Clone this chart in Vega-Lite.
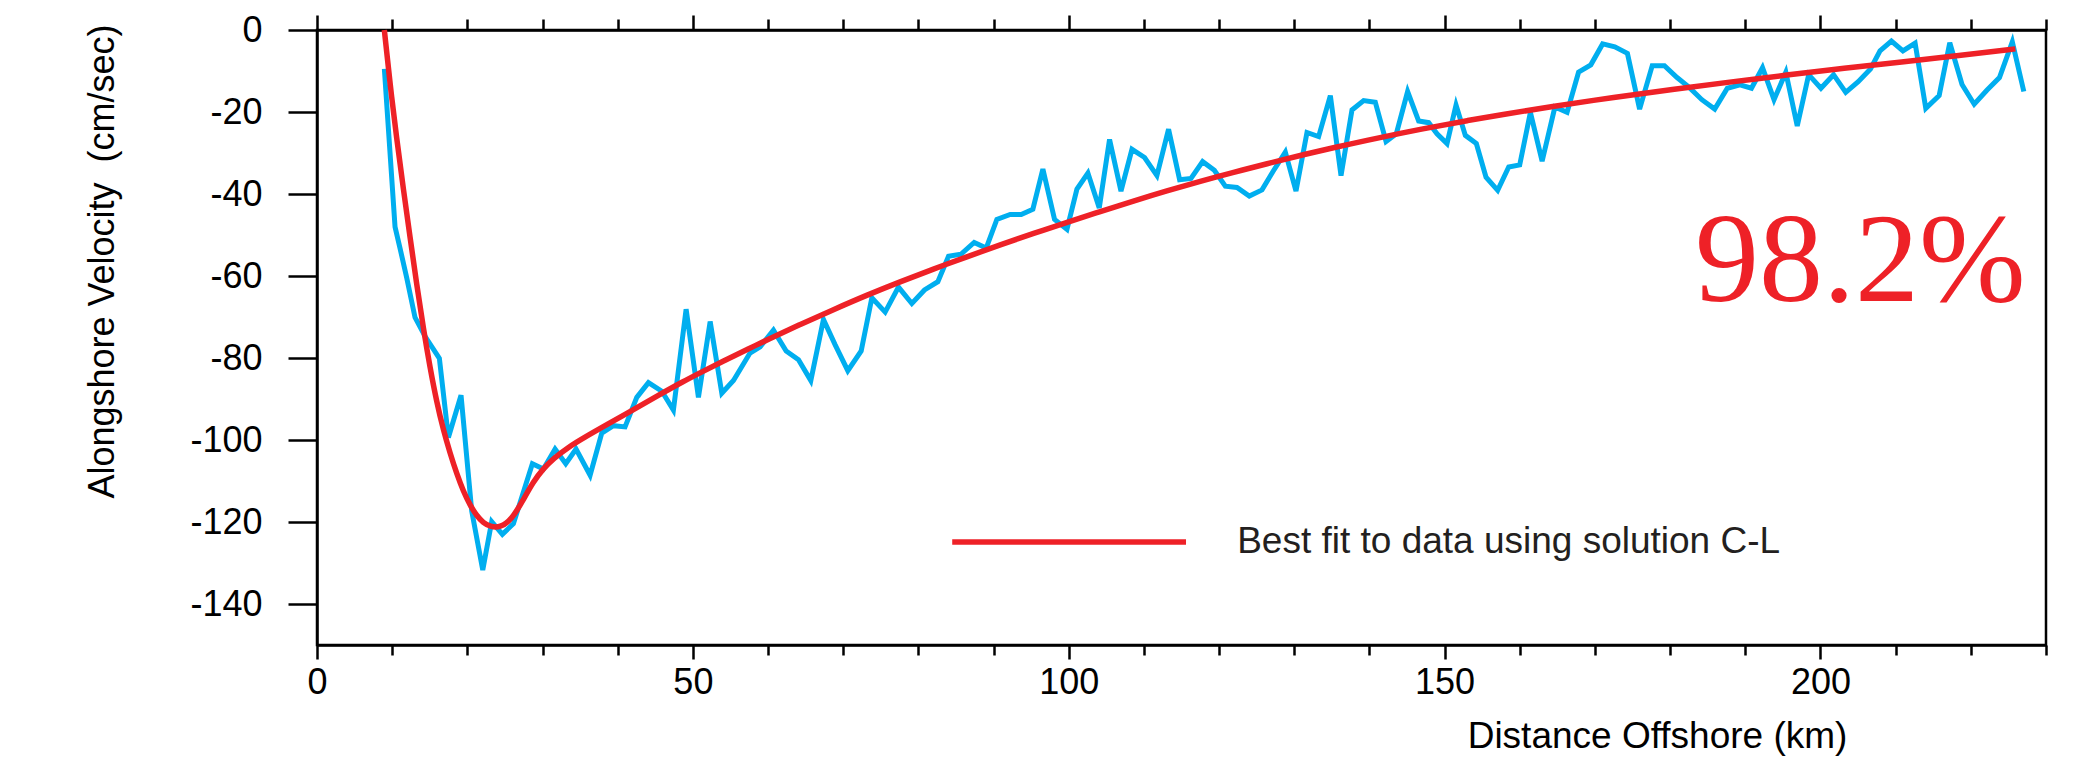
{
  "$schema": "https://vega.github.io/schema/vega-lite/v6.json",
  "width": 1729,
  "height": 615,
  "autosize": {"type": "none"},
  "padding": {"left": 317, "top": 30, "right": 52, "bottom": 112},
  "background": "white",
  "config": {
    "view": {"stroke": "#000000", "strokeWidth": 2.5},
    "font": "Liberation Sans"
  },
  "datasets": {
    "observed": [
      {"distance": 8.96, "velocity": -9.5}, {"distance": 10.38, "velocity": -48.0}, {"distance": 11.04, "velocity": -53.2}, {"distance": 11.93, "velocity": -60.4}, {"distance": 13.04, "velocity": -70.1}, {"distance": 14.37, "velocity": -74.7}, {"distance": 16.28, "velocity": -80.1}, {"distance": 17.48, "velocity": -99.4}, {"distance": 19.16, "velocity": -89.1}, {"distance": 20.58, "velocity": -117.3}, {"distance": 22.05, "velocity": -131.7}, {"distance": 23.24, "velocity": -119.9}, {"distance": 24.66, "velocity": -123.0}, {"distance": 26.13, "velocity": -120.4}, {"distance": 28.65, "velocity": -105.8}, {"distance": 30.12, "velocity": -107.1}, {"distance": 31.67, "velocity": -102.2}, {"distance": 33.09, "velocity": -105.8}, {"distance": 34.46, "velocity": -102.2}, {"distance": 36.33, "velocity": -108.6}, {"distance": 37.88, "velocity": -98.3}, {"distance": 39.43, "velocity": -96.5}, {"distance": 40.98, "velocity": -96.8}, {"distance": 42.54, "velocity": -89.6}, {"distance": 44.09, "velocity": -86.0}, {"distance": 45.87, "velocity": -88.1}, {"distance": 47.41, "velocity": -92.7}, {"distance": 49.1, "velocity": -68.1}, {"distance": 50.74, "velocity": -89.6}, {"distance": 52.3, "velocity": -71.1}, {"distance": 53.85, "velocity": -88.6}, {"distance": 55.4, "velocity": -85.5}, {"distance": 57.6, "velocity": -78.8},
      {"distance": 58.95, "velocity": -77.3}, {"distance": 60.72, "velocity": -73.2}, {"distance": 62.41, "velocity": -78.3}, {"distance": 64.05, "velocity": -80.4}, {"distance": 65.69, "velocity": -85.5}, {"distance": 67.37, "velocity": -70.6}, {"distance": 68.93, "velocity": -76.8}, {"distance": 70.61, "velocity": -83.1}, {"distance": 72.39, "velocity": -78.3}, {"distance": 73.81, "velocity": -65.3}, {"distance": 75.58, "velocity": -68.8}, {"distance": 77.35, "velocity": -62.7}, {"distance": 79.13, "velocity": -66.7}, {"distance": 80.81, "velocity": -63.4}, {"distance": 82.59, "velocity": -61.4}, {"distance": 84.01, "velocity": -55.2}, {"distance": 85.65, "velocity": -54.7}, {"distance": 87.42, "velocity": -51.8}, {"distance": 89.02, "velocity": -53.2}, {"distance": 90.44, "velocity": -46.2}, {"distance": 92.21, "velocity": -45.0}, {"distance": 93.68, "velocity": -45.0}, {"distance": 95.23, "velocity": -43.7}, {"distance": 96.56, "velocity": -33.9}, {"distance": 98.11, "velocity": -46.2}, {"distance": 99.76, "velocity": -48.6}, {"distance": 101.09, "velocity": -38.8}, {"distance": 102.55, "velocity": -34.9}, {"distance": 104.06, "velocity": -43.4}, {"distance": 105.43, "velocity": -26.7}, {"distance": 106.95, "velocity": -39.3}, {"distance": 108.41, "velocity": -29.1}, {"distance": 110.09, "velocity": -31.1},
      {"distance": 111.73, "velocity": -35.5}, {"distance": 113.28, "velocity": -24.2}, {"distance": 114.75, "velocity": -36.5}, {"distance": 116.26, "velocity": -36.2}, {"distance": 117.81, "velocity": -32.1}, {"distance": 119.37, "velocity": -34.2}, {"distance": 120.83, "velocity": -38.1}, {"distance": 122.38, "velocity": -38.4}, {"distance": 124.02, "velocity": -40.5}, {"distance": 125.71, "velocity": -39.0}, {"distance": 127.17, "velocity": -34.5}, {"distance": 128.81, "velocity": -29.8}, {"distance": 130.23, "velocity": -39.3}, {"distance": 131.69, "velocity": -25.0}, {"distance": 133.24, "velocity": -26.0}, {"distance": 134.8, "velocity": -16.0}, {"distance": 136.22, "velocity": -35.5}, {"distance": 137.68, "velocity": -19.5}, {"distance": 139.23, "velocity": -17.2}, {"distance": 140.78, "velocity": -17.6}, {"distance": 142.21, "velocity": -27.2}, {"distance": 143.58, "velocity": -25.3}, {"distance": 145.08, "velocity": -15.0}, {"distance": 146.55, "velocity": -22.2}, {"distance": 147.88, "velocity": -22.6}, {"distance": 148.99, "velocity": -25.3}, {"distance": 150.32, "velocity": -27.7}, {"distance": 151.52, "velocity": -18.3}, {"distance": 152.76, "velocity": -25.7}, {"distance": 154.22, "velocity": -27.7}, {"distance": 155.51, "velocity": -35.9}, {"distance": 157.06, "velocity": -39.1}, {"distance": 158.53, "velocity": -33.4}, {"distance": 159.99, "velocity": -32.9}, {"distance": 161.41, "velocity": -20.1}, {"distance": 162.97, "velocity": -32.0},
      {"distance": 164.67, "velocity": -18.8}, {"distance": 166.29, "velocity": -20.1}, {"distance": 167.82, "velocity": -10.3}, {"distance": 169.45, "velocity": -8.5}, {"distance": 171.02, "velocity": -3.4}, {"distance": 172.64, "velocity": -4.1}, {"distance": 174.32, "velocity": -5.7}, {"distance": 175.94, "velocity": -19.3}, {"distance": 177.62, "velocity": -8.7}, {"distance": 179.24, "velocity": -8.7}, {"distance": 180.92, "velocity": -11.6}, {"distance": 182.54, "velocity": -14.0}, {"distance": 184.22, "velocity": -17.0}, {"distance": 185.93, "velocity": -19.3}, {"distance": 187.61, "velocity": -14.2}, {"distance": 189.29, "velocity": -13.4}, {"distance": 190.82, "velocity": -14.2}, {"distance": 192.29, "velocity": -9.2}, {"distance": 193.82, "velocity": -17.0}, {"distance": 195.39, "velocity": -10.3}, {"distance": 196.91, "velocity": -23.4}, {"distance": 198.43, "velocity": -10.9}, {"distance": 200.06, "velocity": -14.2}, {"distance": 201.74, "velocity": -10.9}, {"distance": 203.36, "velocity": -15.2}, {"distance": 205.02, "velocity": -12.6}, {"distance": 206.65, "velocity": -9.5}, {"distance": 207.92, "velocity": -5.1}, {"distance": 209.44, "velocity": -2.7}, {"distance": 210.97, "velocity": -5.1}, {"distance": 212.59, "velocity": -3.2}, {"distance": 214.01, "velocity": -19.1}, {"distance": 215.79, "velocity": -16.0}, {"distance": 217.2, "velocity": -3.1}, {"distance": 218.83, "velocity": -13.3}, {"distance": 220.45, "velocity": -18.1}, {"distance": 222.13, "velocity": -14.7}, {"distance": 223.81, "velocity": -11.6}, {"distance": 225.52, "velocity": -2.9}, {"distance": 227.05, "velocity": -15.0}
    ],
    "fit": [
      {"distance": 8.96, "velocity": 0}, {"distance": 9.71, "velocity": -13.1}, {"distance": 10.6, "velocity": -26.5}, {"distance": 11.49, "velocity": -38.8}, {"distance": 12.38, "velocity": -50.6}, {"distance": 13.26, "velocity": -62.0}, {"distance": 14.15, "velocity": -72.8}, {"distance": 15.04, "velocity": -82.4}, {"distance": 15.93, "velocity": -90.8}, {"distance": 16.8, "velocity": -97.5}, {"distance": 17.7, "velocity": -103.2}, {"distance": 18.6, "velocity": -108.3}, {"distance": 19.47, "velocity": -112.5}, {"distance": 20.36, "velocity": -115.9}, {"distance": 21.25, "velocity": -118.5}, {"distance": 22.13, "velocity": -120.2}, {"distance": 23.02, "velocity": -121.1}, {"distance": 24.35, "velocity": -121.4}, {"distance": 25.9, "velocity": -119.4}, {"distance": 27.37, "velocity": -114.8}, {"distance": 28.79, "velocity": -110.1}, {"distance": 30.1, "velocity": -107.0}, {"distance": 31.45, "velocity": -104.5}, {"distance": 33.4, "velocity": -101.8}, {"distance": 35.44, "velocity": -99.5}, {"distance": 38.8, "velocity": -96.0}, {"distance": 42.09, "velocity": -92.6}, {"distance": 45.4, "velocity": -89.1}, {"distance": 48.74, "velocity": -85.7}, {"distance": 50.96, "velocity": -83.6}, {"distance": 54.3, "velocity": -80.5}, {"distance": 57.6, "velocity": -77.6}, {"distance": 59.84, "velocity": -75.6}, {"distance": 64.3, "velocity": -71.8}, {"distance": 68.7, "velocity": -68.2}, {"distance": 73.1, "velocity": -64.7}, {"distance": 77.58, "velocity": -61.4}, {"distance": 82.0, "velocity": -58.3}, {"distance": 86.45, "velocity": -55.3}, {"distance": 90.9, "velocity": -52.4}, {"distance": 95.32, "velocity": -49.6}, {"distance": 99.8, "velocity": -46.9}, {"distance": 104.19, "velocity": -44.3}, {"distance": 108.6, "velocity": -41.7}, {"distance": 113.06, "velocity": -39.2}, {"distance": 117.5, "velocity": -36.9}, {"distance": 121.93, "velocity": -34.7}, {"distance": 126.4, "velocity": -32.6}, {"distance": 130.8, "velocity": -30.6}, {"distance": 135.2, "velocity": -28.7}, {"distance": 139.68, "velocity": -26.9}, {"distance": 144.1, "velocity": -25.2}, {"distance": 148.55, "velocity": -23.6}, {"distance": 153.0, "velocity": -22.1}, {"distance": 157.42, "velocity": -20.7}, {"distance": 164.07, "velocity": -18.7}, {"distance": 172.64, "velocity": -16.4}, {"distance": 180.3, "velocity": -14.5}, {"distance": 187.93, "velocity": -12.7}, {"distance": 195.5, "velocity": -11.0}, {"distance": 203.15, "velocity": -9.3}, {"distance": 210.8, "velocity": -7.8}, {"distance": 218.4, "velocity": -6.2}, {"distance": 225.93, "velocity": -4.6}
    ]
  },
  "resolve": {"axis": {"x": "independent"}},
  "layer": [
    {
      "data": {"name": "observed"},
      "mark": {"type": "line", "color": "#00AEEF", "strokeWidth": 5},
      "encoding": {
        "x": {
          "field": "distance", "type": "quantitative",
          "scale": {"domain": [0, 230], "nice": false, "zero": false},
          "axis": {
            "orient": "bottom",
            "values": [0, 10, 20, 30, 40, 50, 60, 70, 80, 90, 100, 110, 120, 130, 140, 150, 160, 170, 180, 190, 200, 210, 220, 230],
            "labelExpr": "datum.value % 50 === 0 ? datum.label : ''",
            "labelFlush": false,
            "grid": false,
            "domainColor": "#000000", "domainWidth": 2.5,
            "tickColor": "#000000", "tickWidth": 2.5,
            "tickSize": {"condition": {"test": "datum.value % 50 === 0", "value": 14}, "value": 10},
            "labelPadding": 6,
            "labelFont": "Liberation Sans", "labelFontSize": 36, "labelColor": "#000000",
            "title": "Distance Offshore (km)",
            "titleFont": "Liberation Sans", "titleFontSize": 37, "titleFontWeight": "normal", "titleColor": "#000000",
            "titleX": 1340, "titleY": 102, "titleAlign": "center", "titleBaseline": "alphabetic"
          }
        },
        "y": {
          "field": "velocity", "type": "quantitative",
          "scale": {"domain": [-150, 0], "nice": false, "zero": false},
          "axis": {
            "orient": "left",
            "values": [-140, -120, -100, -80, -60, -40, -20, 0],
            "labelExpr": "'' + datum.value",
            "labelFlush": false,
            "grid": false,
            "domainColor": "#000000", "domainWidth": 2.5,
            "tickColor": "#000000", "tickWidth": 2.5, "tickSize": 29,
            "labelPadding": 26,
            "labelFont": "Liberation Sans", "labelFontSize": 36, "labelColor": "#000000",
            "title": "Alongshore Velocity\u00a0 (cm/sec)",
            "titleFont": "Liberation Sans", "titleFontSize": 36, "titleFontWeight": "normal", "titleColor": "#000000",
            "titleAngle": 270, "titleX": -204, "titleY": 231, "titleAlign": "center", "titleBaseline": "alphabetic"
          }
        }
      }
    },
    {
      "data": {"name": "fit"},
      "mark": {"type": "line", "color": "#EE2127", "strokeWidth": 5.5, "interpolate": "basis"},
      "encoding": {
        "x": {
          "field": "distance", "type": "quantitative",
          "axis": {
            "orient": "top",
            "values": [0, 10, 20, 30, 40, 50, 60, 70, 80, 90, 100, 110, 120, 130, 140, 150, 160, 170, 180, 190, 200, 210, 220, 230],
            "labels": false, "grid": false, "title": null,
            "domainColor": "#000000", "domainWidth": 2.5,
            "tickColor": "#000000", "tickWidth": 2.5,
            "tickSize": {"condition": {"test": "datum.value % 50 === 0", "value": 15}, "value": 11}
          }
        },
        "y": {"field": "velocity", "type": "quantitative"}
      }
    },
    {
      "data": {"values": [{}]},
      "mark": {"type": "rule", "color": "#EE2127", "strokeWidth": 5.5},
      "encoding": {
        "x": {"datum": 84.5, "type": "quantitative", "axis": null},
        "x2": {"datum": 115.6},
        "y": {"datum": -124.9, "type": "quantitative"}
      }
    },
    {
      "data": {"values": [{}]},
      "mark": {"type": "text", "text": "Best fit to data using solution C-L", "font": "Liberation Sans", "fontSize": 37, "color": "#231F20", "align": "left", "baseline": "middle"},
      "encoding": {
        "x": {"datum": 122.4, "type": "quantitative", "axis": null},
        "y": {"datum": -124.9, "type": "quantitative"}
      }
    },
    {
      "data": {"values": [{}]},
      "mark": {"type": "text", "text": "98.2%", "font": "Liberation Serif", "fontSize": 128, "color": "#EE2127", "align": "center", "baseline": "alphabetic"},
      "encoding": {
        "x": {"datum": 205.3, "type": "quantitative", "axis": null},
        "y": {"datum": -66.0, "type": "quantitative"}
      }
    }
  ]
}
